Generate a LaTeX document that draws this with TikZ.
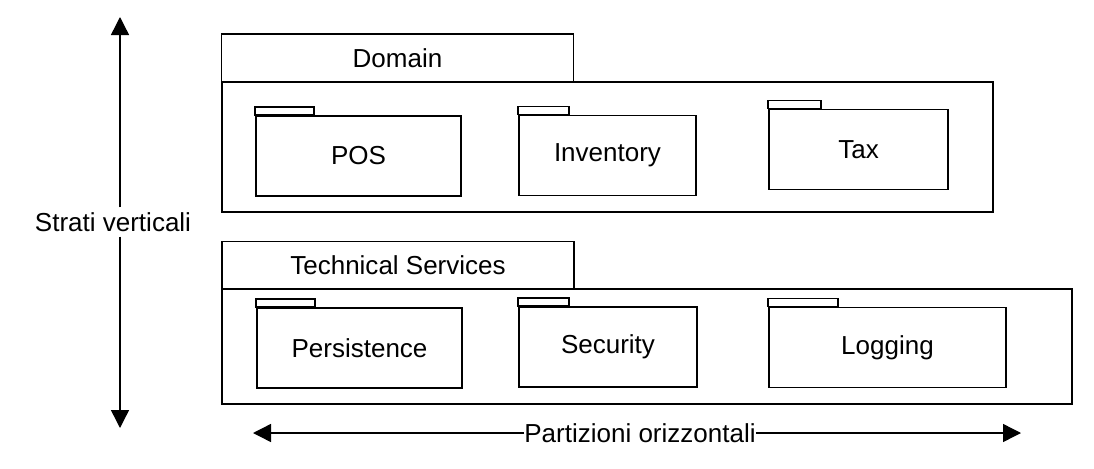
\documentclass[tikz,border=0pt]{standalone}
\usepackage{fontspec}
\setmainfont{Liberation Sans}
\usepackage{tikz}
\usetikzlibrary{arrows.meta,positioning}
\tikzstyle{arrow} = [line width=1pt,-{Triangle[length=0.45cm,width=0.45cm]}]
\tikzstyle{layertab} = [rectangle, draw, line width=1.1pt, inner sep=0pt, minimum width=8.8cm, minimum height=1.2cm]
\tikzstyle{layerbody} = [rectangle, draw, line width=1.1pt, inner sep=0pt]
\tikzstyle{pkg} = [rectangle, draw, line width=1.1pt, inner sep=0pt, minimum height=2cm]

\begin{document}
\begin{tikzpicture}[x=0.025cm, y=-0.025cm, font=\fontsize{18.5}{21}\selectfont]
\useasboundingbox (0,0) rectangle (1094,468);

% Domain layer
\node[layertab] (domtab) at (397.5,58) {Domain};
\node[layerbody, minimum width=19.275cm, minimum height=3.25cm] (dom) at (607.5,147) {};
\node[pkg, minimum width=5.125cm] (pos) at (358.5,156) {POS};
\node[pkg, minimum width=4.425cm] (inv) at (607.5,155.5) {Inventory};
\node[pkg, minimum width=4.475cm] (tax) at (858.5,149.5) {Tax};

% Technical Services layer
\node[layertab] (techtab) at (398,265.5) {Technical Services};
\node[layerbody, minimum width=21.25cm, minimum height=2.875cm] (tech) at (647,346.5) {};
\node[pkg, minimum width=5.125cm] (pers) at (359.5,348) {Persistence};
\node[pkg, minimum width=4.45cm] (sec) at (608,347) {Security};
\node[pkg, minimum width=5.925cm] (log) at (887.5,347.5) {Logging};

% Tabs
\foreach \p/\w in {pos/59, inv/51, tax/53, pers/59, sec/51, log/70}
  \draw[line width=1.1pt] (\p.north west) rectangle ++(\w,-8);

% Axes
\node (strati) at (113,222) {Strati verticali};
\coordinate (vtop) at (120,17);
\coordinate (vbot) at (120,428);
\draw[arrow] (strati.north -| vtop) -- (vtop);
\draw[arrow] (strati.south -| vbot) -- (vbot);

\node[inner xsep=0pt] (partiz) at (640,433) {Partizioni orizzontali};
\coordinate (hleft) at (253,433);
\coordinate (hright) at (1021,433);
\draw[arrow] (partiz.west) -- (hleft);
\draw[arrow] (partiz.east) -- (hright);
\end{tikzpicture}
\end{document}
